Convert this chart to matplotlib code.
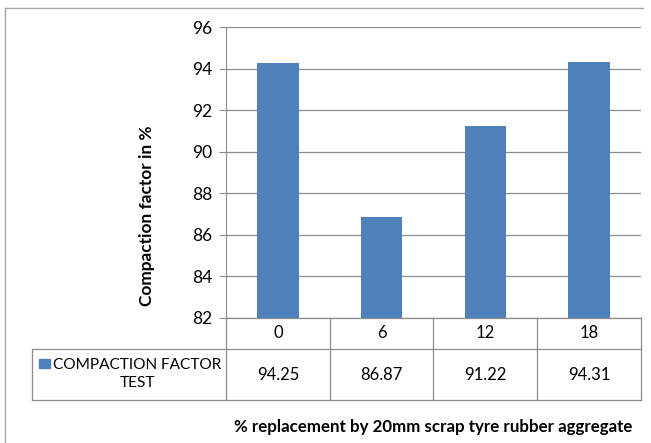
import matplotlib
matplotlib.use('Agg')
import matplotlib.pyplot as plt
from matplotlib.lines import Line2D
from matplotlib.patches import Rectangle

plt.rcParams['font.family'] = ['Lato', 'DejaVu Sans']

categories = ['0', '6', '12', '18']
values = [94.25, 86.87, 91.22, 94.31]
series_name = 'COMPACTION FACTOR\nTEST'
yticks = [82, 84, 86, 88, 90, 92, 94, 96]

W, H = 651, 443
fig = plt.figure(figsize=(W / 100, H / 100), dpi=100)

def fx(px):
    return px / W

def fy(py):
    return 1 - py / H

# outer frame (top and left edges visible)
frame_kw = dict(color='#a6a6a6', lw=1, transform=fig.transFigure)
fig.add_artist(Line2D([fx(5), fx(643)], [fy(8), fy(8)], **frame_kw))
fig.add_artist(Line2D([fx(5), fx(5)], [fy(8), fy(445)], **frame_kw))

left, right, top, bottom = 226, 641, 27, 318
ax = fig.add_axes([fx(left), fy(bottom), fx(right) - fx(left), fy(top) - fy(bottom)])
x = range(len(categories))
ax.bar(x, values, width=0.4, color='#4f81bd', zorder=3)
ax.set_xlim(-0.5, len(categories) - 0.5)
ax.set_ylim(82, 96)
ax.set_yticks(yticks)
ax.set_yticklabels([str(t) for t in yticks], fontsize=12.5)
ax.yaxis.grid(True, color='#8c8c8c', lw=0.9, zorder=0)
ax.set_xticks([])
for s in ['top', 'right', 'bottom']:
    ax.spines[s].set_visible(False)
ax.spines['left'].set_color('#8c8c8c')
ax.tick_params(axis='y', length=5, color='#8c8c8c', direction='out', pad=5)

fig.text(fx(147), fy(216), 'Compaction factor in %', rotation=90, ha='center', va='center',
         fontsize=12.4, fontweight='bold')

# data table
tbl_left = 32
row1, row2, row3 = 318, 349, 400
col_w = (right - left) / len(categories)
line_kw = dict(color='#8c8c8c', lw=0.9, transform=fig.transFigure)
fig.add_artist(Line2D([fx(left), fx(right)], [fy(row1), fy(row1)], **line_kw))
fig.add_artist(Line2D([fx(tbl_left), fx(right)], [fy(row2), fy(row2)], **line_kw))
fig.add_artist(Line2D([fx(tbl_left), fx(right)], [fy(row3), fy(row3)], **line_kw))
fig.add_artist(Line2D([fx(tbl_left), fx(tbl_left)], [fy(row2), fy(row3)], **line_kw))
for i in range(len(categories) + 1):
    xc = left + i * col_w
    fig.add_artist(Line2D([fx(xc), fx(xc)], [fy(row1), fy(row3)], **line_kw))
for i, (c, v) in enumerate(zip(categories, values)):
    xc = left + (i + 0.5) * col_w
    fig.text(fx(xc), fy((row1 + row2) / 2), c, ha='center', va='center', fontsize=12)
    fig.text(fx(xc), fy((row2 + row3) / 2), f'{v:.2f}', ha='center', va='center', fontsize=12)

fig.add_artist(Rectangle((fx(39), fy(368)), fx(50) - fx(39), fy(359) - fy(368),
                         transform=fig.transFigure, color='#4f81bd'))
fig.text(fx(137), fy(374), series_name, ha='center', va='center', fontsize=11.1,
         multialignment='center', linespacing=1.4)

fig.text(fx(433), fy(427), '% replacement by 20mm scrap tyre rubber aggregate',
         ha='center', va='center', fontsize=12.2, fontweight='bold')

fig.savefig('out.png', dpi=100)
